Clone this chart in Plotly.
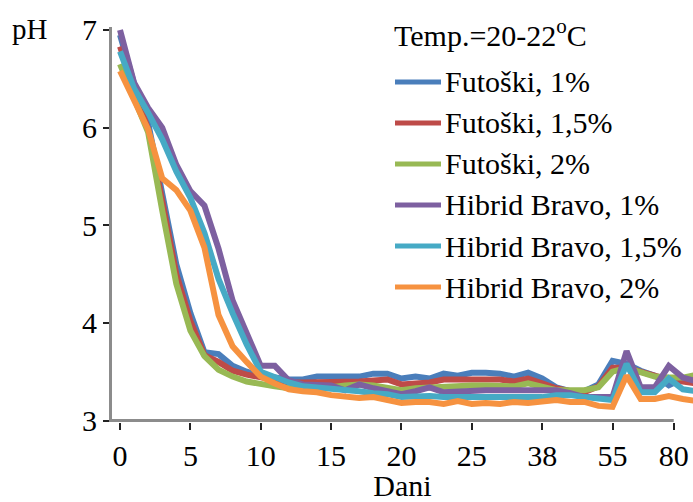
import plotly.graph_objects as go

# ---- data (pH vs. sampling point index) ----
series_names = ["Futoški, 1%", "Futoški, 1,5%", "Futoški, 2%",
                "Hibrid Bravo, 1%", "Hibrid Bravo, 1,5%", "Hibrid Bravo, 2%"]
series_colors = ["#4a7ebb", "#be4b48", "#98b954", "#7d60a0", "#46aac5", "#f69240"]

futoski_1 = [6.95, 6.45, 6.05, 5.35, 4.60, 4.10, 3.70, 3.68, 3.56, 3.50,
             3.46, 3.44, 3.42, 3.42, 3.45, 3.45, 3.45, 3.45, 3.48, 3.48,
             3.43, 3.45, 3.43, 3.48, 3.46, 3.49, 3.49, 3.48, 3.45, 3.49,
             3.43, 3.34, 3.30, 3.30, 3.37, 3.61, 3.58, 3.51, 3.46, 3.36,
             3.43, 3.40]
futoski_15 = [6.83, 6.40, 5.98, 5.25, 4.50, 4.02, 3.67, 3.60, 3.51, 3.47,
              3.44, 3.41, 3.39, 3.39, 3.39, 3.39, 3.40, 3.40, 3.41, 3.42,
              3.37, 3.38, 3.39, 3.42, 3.42, 3.43, 3.43, 3.42, 3.40, 3.43,
              3.38, 3.33, 3.30, 3.29, 3.35, 3.54, 3.54, 3.50, 3.45, 3.42,
              3.40, 3.38]
futoski_2 = [6.65, 6.30, 5.95, 5.15, 4.40, 3.92, 3.66, 3.52, 3.45, 3.40,
             3.37, 3.35, 3.33, 3.33, 3.33, 3.34, 3.36, 3.37, 3.36, 3.33,
             3.31, 3.33, 3.34, 3.35, 3.35, 3.36, 3.36, 3.36, 3.35, 3.38,
             3.34, 3.31, 3.31, 3.31, 3.34, 3.50, 3.54, 3.50, 3.45, 3.44,
             3.44, 3.47]
bravo_1 = [7.00, 6.46, 6.20, 6.00, 5.62, 5.35, 5.20, 4.76, 4.23, 3.88,
           3.56, 3.56, 3.41, 3.37, 3.36, 3.36, 3.31, 3.37, 3.33, 3.30,
           3.27, 3.30, 3.34, 3.29, 3.30, 3.31, 3.31, 3.31, 3.31, 3.32,
           3.31, 3.31, 3.28, 3.24, 3.24, 3.24, 3.71, 3.34, 3.34, 3.56,
           3.44, 3.40]
bravo_15 = [6.78, 6.40, 6.15, 5.88, 5.55, 5.28, 4.92, 4.45, 4.10, 3.78,
            3.50, 3.44, 3.39, 3.35, 3.34, 3.33, 3.32, 3.30, 3.28, 3.27,
            3.24, 3.25, 3.25, 3.24, 3.24, 3.24, 3.25, 3.25, 3.25, 3.24,
            3.24, 3.26, 3.26, 3.24, 3.22, 3.21, 3.58, 3.29, 3.29, 3.43,
            3.32, 3.30]
bravo_2 = [6.58, 6.28, 5.98, 5.48, 5.36, 5.15, 4.77, 4.08, 3.76, 3.60,
           3.45, 3.38, 3.32, 3.30, 3.29, 3.26, 3.25, 3.23, 3.24, 3.21,
           3.18, 3.19, 3.19, 3.17, 3.20, 3.17, 3.18, 3.17, 3.19, 3.18,
           3.20, 3.21, 3.19, 3.19, 3.15, 3.14, 3.46, 3.22, 3.22, 3.25,
           3.22, 3.20]

tick_labels = ["0", "5", "10", "15", "20", "25", "38", "55", "80"]
legend_title = "Temp.=20-22<sup>o</sup>C"

all_series = [futoski_1, futoski_15, futoski_2, bravo_1, bravo_15, bravo_2]
x_index = list(range(len(futoski_1)))

FONT = "Liberation Serif"
W, H = 693, 502
ML, MR, MT, MB = 112, 0, 27, 80
PW, PH = W - ML - MR, H - MT - MB
x_lo, x_hi = -0.57, 40.72
axis_end = 39.35
tick_pos = [5 * k for k in range(len(tick_labels) - 1)] + [axis_end]


def px(xp):
    return (xp - ML) / PW


def py(yp):
    return (H - MB - yp) / PH


fig = go.Figure()
for name, col, vals in zip(series_names, series_colors, all_series):
    fig.add_trace(go.Scatter(x=x_index, y=vals, mode="lines", name=name,
                             line=dict(color=col, width=6), showlegend=False))

# x axis line (ends at the last tick, like the original)
fig.add_shape(type="line", xref="x", yref="y", x0=x_lo, x1=axis_end, y0=3, y1=3,
              line=dict(color="#8c8c8c", width=3), layer="above")

fig.add_annotation(text="pH", xref="paper", yref="paper", x=px(10), y=py(29),
                   xanchor="left", yanchor="middle", showarrow=False,
                   font=dict(family=FONT, size=29, color="black"))

# legend drawn by hand (long line samples like the original)
fig.add_annotation(text=legend_title, xref="paper", yref="paper", x=px(392), y=py(33),
                   xanchor="left", yanchor="middle", showarrow=False,
                   font=dict(family=FONT, size=30, color="black"))
row_y = [82, 123, 164, 205, 246, 287]
for name, col, ry in zip(series_names, series_colors, row_y):
    fig.add_shape(type="line", xref="paper", yref="paper",
                  x0=px(395), x1=px(441), y0=py(ry), y1=py(ry),
                  line=dict(color=col, width=5))
    fig.add_annotation(text=name, xref="paper", yref="paper", x=px(443), y=py(ry),
                       xanchor="left", yanchor="middle", showarrow=False,
                       font=dict(family=FONT, size=30, color="black"))

fig.update_layout(
    width=W, height=H,
    margin=dict(l=ML, r=MR, t=MT, b=MB),
    paper_bgcolor="white", plot_bgcolor="white",
    font=dict(family=FONT, size=30, color="black"),
    showlegend=False,
    xaxis=dict(range=[x_lo, x_hi], showgrid=False, zeroline=False, showline=False,
               tickmode="array", tickvals=tick_pos, ticktext=tick_labels,
               ticks="outside", ticklen=7, tickwidth=2, tickcolor="#222",
               tickfont=dict(family=FONT, size=30),
               title=dict(text="Dani", font=dict(family=FONT, size=30), standoff=0)),
    yaxis=dict(range=[2.985, 7.03], showgrid=False, zeroline=False, showline=True,
               linecolor="#8c8c8c", linewidth=3,
               tickmode="array", tickvals=[3, 4, 5, 6, 7],
               ticks="outside", ticklen=6, tickwidth=2, tickcolor="#222",
               tickfont=dict(family=FONT, size=30)),
)

fig.write_html("out.html")
